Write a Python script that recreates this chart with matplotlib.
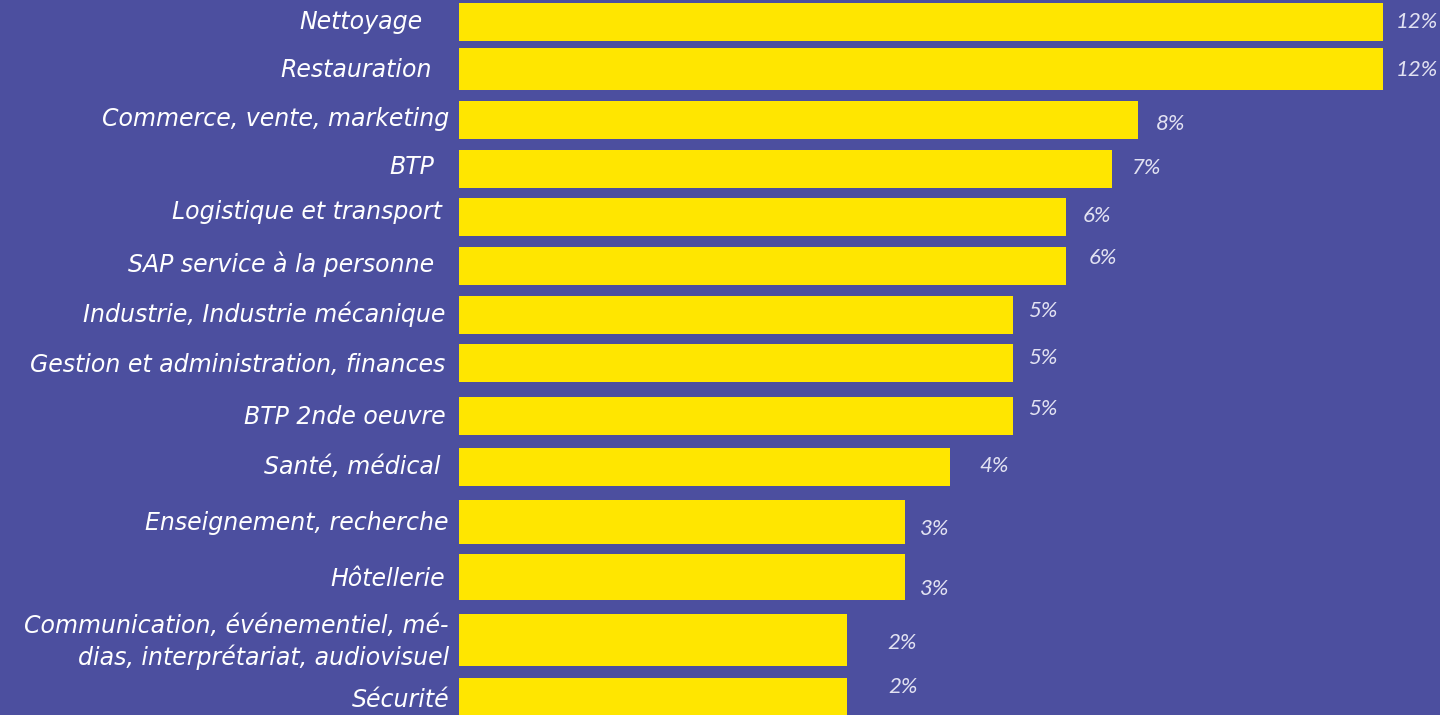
import matplotlib
matplotlib.use("Agg")
import matplotlib.pyplot as plt

# data
categories = [
    "Nettoyage", "Restauration", "Commerce, vente, marketing", "BTP",
    "Logistique et transport", "SAP service à la personne",
    "Industrie, Industrie mécanique", "Gestion et administration, finances",
    "BTP 2nde oeuvre", "Santé, médical", "Enseignement, recherche",
    "Hôtellerie", "Communication, événementiel, mé-\ndias, interprétariat, audiovisuel",
    "Sécurité",
]
pct_labels = ["12%", "12%", "8%", "7%", "6%", "6%", "5%", "5%", "5%",
              "4%", "3%", "3%", "2%", "2%"]
# bar lengths as drawn in the picture (12% bar = 12 units)
bar_len = [12.0, 12.0, 8.82, 8.48, 7.88, 7.88, 7.19, 7.19, 7.19,
           6.38, 5.79, 5.79, 5.04, 5.04]

# layout (the original is hand placed, rows are not evenly spaced)
row_pos = [0, 0.905, 1.888, 2.831, 3.756, 4.70, 5.643, 6.568, 7.589,
           8.571, 9.63, 10.69, 11.90, 13.0]
row_h = [0.732, 0.81, 0.732, 0.732, 0.732, 0.732, 0.732, 0.732, 0.732,
         0.732, 0.85, 0.886, 1.0, 0.732]
pct_dx = [13, 13, 18, 20, 17, 23, 15, 15, 15, 29, 15, 15, 40, 41]   # px
pct_dy = [0, -1, -4, 1, 1, 8, 4, 5, 7, 1, -7, -12, -3, 10]          # px
cat_dx = [-27, -17, 0, -15, -7, -15, -4, -4, -3, -8, 0, -4, 0, 0]   # px
cat_dy = [0, -1, 1, 2, 5, 2, 1, -2, -1, 0, -1, -2, -2, -3]          # px

BG = "#4c4f9f"
YELLOW = "#ffe600"

fig = plt.figure(figsize=(14.4, 7.15), dpi=100, facecolor=BG)
ax = fig.add_axes([459 / 1440, 0, (1440 - 459) / 1440, 1])
ax.set_facecolor(BG)

ax.barh(row_pos, bar_len, height=row_h, color=YELLOW, align="center")
ax.set_xlim(0, 981 / 77)
ax.set_ylim(13.347, -0.424)
ax.axis("off")

for i, (y, v) in enumerate(zip(row_pos, bar_len)):
    ax.annotate(pct_labels[i], (v, y), xytext=(pct_dx[i] * 0.72, pct_dy[i] * 0.72),
                textcoords="offset points", ha="left", va="center",
                fontsize=16, style="italic", fontweight="normal",
                family=["Lato", "DejaVu Sans"], color="#e2e2f2")
    ax.annotate(categories[i], (0, y), xytext=((cat_dx[i] - 10) * 0.72, cat_dy[i] * 0.72),
                textcoords="offset points", ha="right", va="center",
                multialignment="right", linespacing=1.3,
                fontsize=17, style="italic",
                family=["DejaVu Sans"], color="white",
                annotation_clip=False)

fig.savefig("out.png", dpi=100, facecolor=BG)
